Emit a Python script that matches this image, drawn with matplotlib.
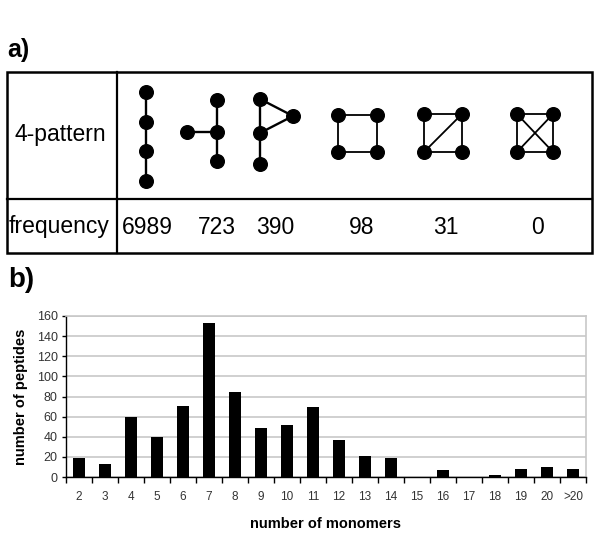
import matplotlib.pyplot as plt
import numpy as np

plt.rcParams['font.family'] = ['Liberation Sans', 'DejaVu Sans']

# panel a) data
pattern_label = "4-pattern"
freq_label = "frequency"
frequencies = ["6989", "723", "390", "98", "31", "0"]

# motif drawings (pixel layout of nodes and their edges)
pattern_nodes = [
    [(146, 92), (146, 122), (146, 151), (146, 181)],
    [(217, 100), (217, 132), (217, 161), (187, 132)],
    [(260, 99), (260, 133), (260, 164), (293, 116)],
    [(338, 115), (377, 115), (377, 152), (338, 152)],
    [(424, 114), (462, 114), (462, 152), (424, 152)],
    [(517, 114), (553, 114), (553, 152), (517, 152)],
]
pattern_edges = [
    [(0, 1), (1, 2), (2, 3)],
    [(0, 1), (1, 2), (1, 3)],
    [(0, 1), (1, 2), (0, 3), (1, 3)],
    [(0, 1), (1, 2), (2, 3), (3, 0)],
    [(0, 1), (1, 2), (2, 3), (3, 0), (3, 1)],
    [(0, 1), (1, 2), (2, 3), (3, 0), (0, 2), (1, 3)],
]
freq_x = [147, 217, 275, 362, 446, 537]

# panel b) data
monomers = ["2", "3", "4", "5", "6", "7", "8", "9", "10", "11", "12",
            "13", "14", "15", "16", "17", "18", "19", "20", ">20"]
peptides = [19, 13, 60, 40, 71, 153, 84, 49, 52, 70, 37,
            21, 19, 0, 7, 0, 2, 8, 10, 8]

fig = plt.figure(figsize=(6, 5.56), dpi=100)

# ---- panel a: table drawn in pixel coordinates
ax0 = fig.add_axes([0, 0, 1, 1])
ax0.set_xlim(0, 600)
ax0.set_ylim(556, 0)
ax0.axis('off')

ax0.add_patch(plt.Rectangle((7, 72), 585, 181, fill=False, lw=1.8, ec='black'))
ax0.plot([117, 117], [72, 253], color='black', lw=1.6)
ax0.plot([7, 592], [199, 199], color='black', lw=1.6)

ax0.text(7, 50, "a)", fontsize=18, fontweight='bold', va='center', ha='left')
ax0.text(8, 280, "b)", fontsize=20, fontweight='bold', va='center', ha='left')

ax0.text(60, 135, pattern_label, fontsize=16.5, ha='center', va='center')
ax0.text(9, 227, freq_label, fontsize=16.5, ha='left', va='center')
for x, f in zip(freq_x, frequencies):
    ax0.text(x, 227, f, fontsize=16.5, ha='center', va='center')

for i, (nodes, edges) in enumerate(zip(pattern_nodes, pattern_edges)):
    lw = 1.7 if i < 3 else 1.3
    for a, b in edges:
        ax0.plot([nodes[a][0], nodes[b][0]], [nodes[a][1], nodes[b][1]],
                 color='black', lw=lw, zorder=2)
    xs = [n[0] for n in nodes]
    ys = [n[1] for n in nodes]
    ax0.plot(xs, ys, 'o', color='black', ms=9.8, ls='none', zorder=3)

# ---- panel b: bar chart
ax = fig.add_axes([66 / 600, 1 - 477 / 556, 520 / 600, 161 / 556])
x = np.arange(len(monomers))
ax.bar(x, peptides, width=0.46, color='black', zorder=3)
ax.set_xlim(-0.5, len(monomers) - 0.5)
ax.set_ylim(0, 160)
ax.set_yticks(np.arange(0, 161, 20))
ax.yaxis.grid(True, color='#c8c8c8', lw=1.2, zorder=0)
ax.set_xticks(x)
ax.set_xticklabels(monomers)
ax.set_xticks(np.arange(-0.5, len(monomers), 1), minor=True)
ax.tick_params(axis='x', which='major', length=0, pad=10, labelsize=8.5, labelcolor='#333333')
ax.tick_params(axis='x', which='minor', length=4, direction='out', width=1)
ax.tick_params(axis='y', length=3, width=1, labelsize=9, labelcolor='#333333', pad=3)
for s in ['top', 'right']:
    ax.spines[s].set_color('#c8c8c8')
    ax.spines[s].set_linewidth(1.2)
ax.spines['left'].set_linewidth(1)
ax.spines['bottom'].set_linewidth(1)

ax.set_xlabel("number of monomers", fontsize=10.5, fontweight='bold', labelpad=10)
ax.set_ylabel("number of peptides", fontsize=10.5, fontweight='bold', labelpad=6)

fig.savefig("out.png", dpi=100)
